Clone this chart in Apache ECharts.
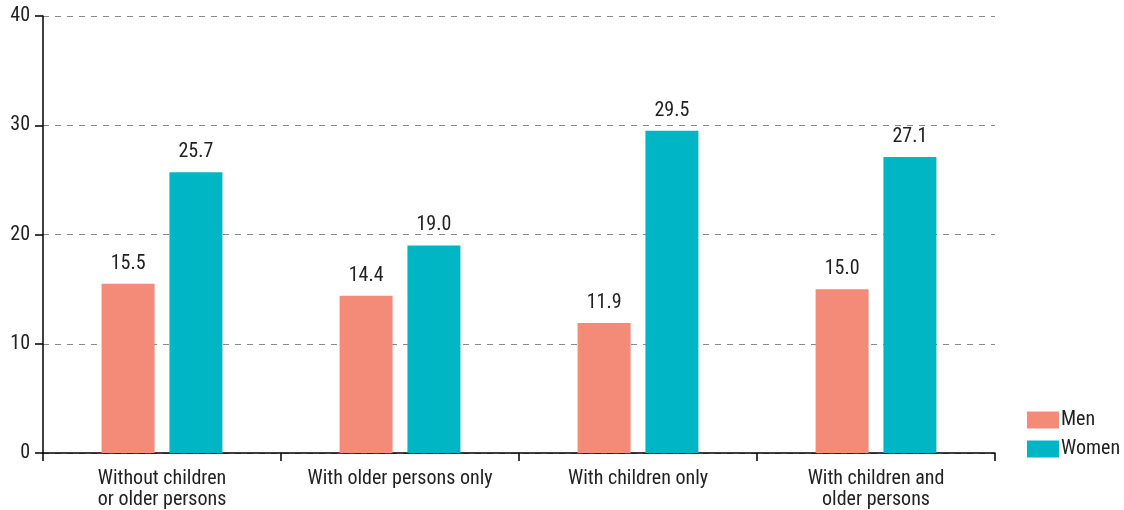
<!DOCTYPE html>
<html>
<head>
<meta charset="utf-8">
<script src="https://cdn.jsdelivr.net/npm/echarts@6/dist/echarts.min.js"></script>
<style>html,body{margin:0;padding:0;background:#fff}#chart{width:1124px;height:510px}</style>
</head>
<body>
<div id="chart"></div>
<script>
const categories = ['Without children\nor older persons', 'With older persons only', 'With children only', 'With children and\nolder persons'];
const men = [15.5, 14.4, 11.9, 15.0];
const women = [25.7, 19.0, 29.5, 27.1];
const yTicks = [0, 10, 20, 30, 40];

const FONT = '"Liberation Sans Narrow", "Roboto Condensed", Roboto, sans-serif';
const chart = echarts.init(document.getElementById('chart'), null, { renderer: 'canvas' });

const labelCfg = {
  show: true, position: 'top', distance: 10,
  color: '#222', fontSize: 20, fontFamily: FONT,
  formatter: p => p.value.toFixed(1)
};

chart.setOption({
  animation: false,
  textStyle: { fontFamily: FONT },
  legend: {
    orient: 'vertical', left: 1022, top: 405,
    icon: 'rect',
    itemWidth: 32, itemHeight: 17, itemGap: 9,
    textStyle: { fontSize: 20, color: '#222', fontFamily: FONT, padding: [0, 0, 0, -3] },
    data: ['Men', 'Women']
  },
  grid: { left: 43, right: 129, top: 16, bottom: 55 },
  xAxis: {
    type: 'category', data: categories,
    axisLine: { lineStyle: { color: '#000', width: 1.5 } },
    axisTick: { show: true, length: 8, lineStyle: { color: '#000', width: 1.5 } },
    axisLabel: { interval: 0, fontSize: 20, color: '#222', fontFamily: FONT, lineHeight: 21, margin: 15 }
  },
  yAxis: {
    type: 'value', min: yTicks[0], max: yTicks[yTicks.length - 1], interval: 10,
    axisLine: { show: true, lineStyle: { color: '#000', width: 1.5 } },
    axisTick: { show: true, length: 8, lineStyle: { color: '#000', width: 1.5 } },
    axisLabel: { fontSize: 20, color: '#222', fontFamily: FONT, margin: 13 },
    splitLine: { lineStyle: { color: '#888', type: [6, 6], width: 1 } }
  },
  series: [
    { name: 'Men', type: 'bar', data: men, barWidth: 53, barGap: '28%',
      itemStyle: { color: '#F48A78' }, label: labelCfg },
    { name: 'Women', type: 'bar', data: women, barWidth: 53,
      itemStyle: { color: '#00B6C4' }, label: labelCfg }
  ]
});
</script>
</body>
</html>
